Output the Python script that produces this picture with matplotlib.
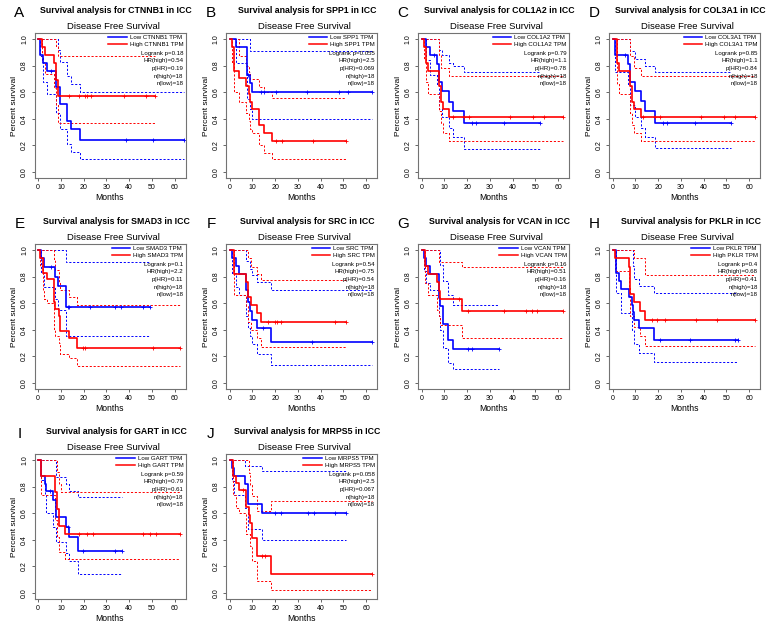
"""Grid of Kaplan-Meier disease free survival curves (10 genes, ICC)."""

import matplotlib
matplotlib.use("Agg")
import matplotlib.pyplot as plt
from matplotlib.lines import Line2D

plt.rcParams["font.family"] = ["Liberation Sans", "DejaVu Sans"]

# ---- data: (time, survival) steps, last pair = end ----
A_LOW = [(0, 1.0), (1, 0.88), (2, 0.82), (3.7, 0.76), (7.8, 0.64), (9.5, 0.51), (12.7, 0.38), (14.3, 0.32), (18.6, 0.24), (64, 0.24)]
A_HIGH = [(0, 1.0), (1.5, 0.94), (3, 0.88), (7, 0.82), (7.8, 0.69), (8.8, 0.57), (51.5, 0.57)]
A_LOW_UP = [(0, 1.0), (8.8, 0.92), (9.8, 0.83), (12.7, 0.72), (14.3, 0.66), (18.6, 0.6), (64, 0.6)]
A_LOW_LO = [(0, 1.0), (1, 0.87), (2, 0.68), (3.7, 0.59), (7.8, 0.44), (9.5, 0.32), (12.7, 0.21), (14.3, 0.15), (18.6, 0.1), (64, 0.1)]
A_HIGH_UP = [(0, 1.0), (7.8, 0.95), (8.8, 0.87), (51.5, 0.87)]
A_HIGH_LO = [(0, 1.0), (1.5, 0.83), (3, 0.74), (7, 0.63), (7.8, 0.5), (8.8, 0.37), (51.5, 0.37)]
A_LOW_CENS = [5.5, 38.8, 50.5, 64]
A_HIGH_CENS = [13.5, 17.9, 20.5, 21.4, 23.1, 37.8, 47.3, 51.5]
A_STATS = ["Logrank p=0.18", "HR(high)=0.54", "p(HR)=0.19", "n(high)=18", "n(low)=18"]

B_LOW = [(0, 1.0), (3, 0.94), (7.8, 0.73), (8.8, 0.67), (9.8, 0.6), (62.4, 0.6)]
B_HIGH = [(0, 1.0), (1, 0.94), (2, 0.76), (4, 0.71), (7.3, 0.65), (8.3, 0.59), (9, 0.53), (10, 0.47), (13, 0.35), (15, 0.29), (18.6, 0.235), (51, 0.235)]
B_LOW_UP = [(0, 1.0), (9, 0.91), (62.4, 0.91)]
B_LOW_LO = [(0, 1.0), (3, 0.82), (7.8, 0.55), (8.8, 0.47), (9.8, 0.4), (62.4, 0.4)]
B_HIGH_UP = [(0, 1.0), (4, 0.87), (7.3, 0.8), (8.3, 0.75), (9, 0.7), (13, 0.64), (15, 0.6), (18.6, 0.555), (51, 0.555)]
B_HIGH_LO = [(0, 1.0), (1, 0.83), (2, 0.6), (4, 0.53), (7.3, 0.44), (8.3, 0.38), (9, 0.32), (10, 0.29), (13, 0.2), (15, 0.14), (18.6, 0.1), (51, 0.1)]
B_LOW_CENS = [8, 13.6, 15, 20.4, 34, 48.3, 51.9, 62.4]
B_HIGH_CENS = [20.5, 23, 36.7, 51]
B_STATS = ["Logrank p=0.055", "HR(high)=2.5", "p(HR)=0.069", "n(high)=18", "n(low)=18"]

C_LOW = [(0, 1.0), (1.8, 0.94), (3.6, 0.88), (6.7, 0.81), (7.5, 0.68), (9, 0.61), (12, 0.53), (14, 0.455), (18.5, 0.365), (52, 0.365)]
C_HIGH = [(0, 1.0), (1, 0.94), (1.8, 0.82), (3, 0.76), (7.5, 0.65), (8.3, 0.53), (9.3, 0.47), (12, 0.41), (62, 0.41)]
C_LOW_UP = [(0, 1.0), (7.5, 0.92), (9, 0.88), (12, 0.82), (14, 0.8), (18.5, 0.75), (52, 0.75)]
C_LOW_LO = [(0, 1.0), (1.8, 0.84), (3.6, 0.73), (6.7, 0.66), (7.5, 0.47), (9, 0.41), (12, 0.33), (14, 0.26), (18.5, 0.175), (52, 0.175)]
C_HIGH_UP = [(0, 1.0), (7.5, 0.88), (8.3, 0.78), (12, 0.725), (62, 0.725)]
C_HIGH_LO = [(0, 1.0), (1, 0.85), (1.8, 0.68), (3, 0.59), (7.5, 0.46), (8.3, 0.37), (9.3, 0.29), (12, 0.235), (62, 0.235)]
C_LOW_CENS = [5.5, 22, 24, 36, 52]
C_HIGH_CENS = [14, 18.5, 21, 39, 49, 54, 62]
C_STATS = ["Logrank p=0.79", "HR(high)=1.1", "p(HR)=0.78", "n(high)=18", "n(low)=18"]

D_LOW = [(0, 1.0), (1, 0.88), (6.7, 0.81), (7.7, 0.68), (10, 0.61), (12.5, 0.535), (14.3, 0.455), (18.5, 0.365), (52, 0.365)]
D_HIGH = [(0, 1.0), (1.7, 0.82), (3, 0.76), (7.5, 0.65), (8.5, 0.53), (9.5, 0.47), (12.5, 0.41), (62.6, 0.41)]
D_LOW_UP = [(0, 1.0), (7.7, 0.91), (10, 0.85), (14.3, 0.8), (18.5, 0.75), (52, 0.75)]
D_LOW_LO = [(0, 1.0), (1, 0.75), (6.7, 0.66), (7.7, 0.5), (10, 0.41), (12.5, 0.33), (14.3, 0.26), (18.5, 0.18), (52, 0.18)]
D_HIGH_UP = [(0, 1.0), (7.5, 0.87), (9.5, 0.78), (12.5, 0.725), (62.6, 0.725)]
D_HIGH_LO = [(0, 1.0), (1.7, 0.66), (3, 0.59), (7.5, 0.44), (8.5, 0.35), (9.5, 0.29), (12.5, 0.235), (62.6, 0.235)]
D_LOW_CENS = [5.5, 22, 24, 36, 52]
D_HIGH_CENS = [13.5, 18.5, 21, 39, 49, 54, 62.6]
D_STATS = ["Logrank p=0.85", "HR(high)=1.1", "p(HR)=0.84", "n(high)=18", "n(low)=18"]

E_LOW = [(0, 1.0), (1.4, 0.94), (2.6, 0.87), (7.4, 0.8), (8.6, 0.73), (12.1, 0.57), (49.3, 0.57)]
E_HIGH = [(0, 1.0), (1, 0.94), (2, 0.83), (4, 0.78), (7, 0.61), (7.6, 0.56), (9, 0.5), (9.6, 0.39), (13.7, 0.335), (17.3, 0.266), (62.5, 0.266)]
E_LOW_UP = [(0, 1.0), (12.1, 0.91), (49.3, 0.91)]
E_LOW_LO = [(0, 1.0), (1.4, 0.83), (2.6, 0.72), (7.4, 0.63), (8.6, 0.55), (12.1, 0.355), (49.3, 0.355)]
E_HIGH_UP = [(0, 1.0), (7, 0.93), (7.6, 0.85), (9, 0.76), (9.6, 0.7), (13.7, 0.647), (17.3, 0.585), (62.5, 0.585)]
E_HIGH_LO = [(0, 1.0), (1, 0.88), (2, 0.7), (2.6, 0.63), (4, 0.6), (7, 0.4), (7.6, 0.35), (9, 0.3), (9.6, 0.22), (13.7, 0.185), (17.3, 0.125), (62.5, 0.125)]
E_LOW_CENS = [5.5, 13, 13.7, 22.6, 34, 36.6, 46, 49.3]
E_HIGH_CENS = [19.7, 20.4, 50.4, 62.5]
E_STATS = ["Logrank p=0.1", "HR(high)=2.2", "p(HR)=0.11", "n(high)=18", "n(low)=18"]

F_LOW = [(0, 1.0), (1.1, 0.94), (2.9, 0.88), (3.9, 0.82), (7.4, 0.7), (8, 0.61), (8.9, 0.54), (9.8, 0.475), (12, 0.41), (18, 0.31), (62.4, 0.31)]
F_HIGH = [(0, 1.0), (1.7, 0.82), (7.1, 0.76), (8, 0.65), (9.3, 0.59), (12.1, 0.53), (13.9, 0.46), (51, 0.46)]
F_LOW_UP = [(0, 1.0), (7.4, 0.92), (8.9, 0.86), (9.8, 0.815), (12, 0.76), (18, 0.7), (62.4, 0.7)]
F_LOW_LO = [(0, 1.0), (1.1, 0.83), (2.9, 0.72), (3.9, 0.66), (7.4, 0.5), (8, 0.41), (8.9, 0.35), (9.8, 0.295), (12, 0.22), (18, 0.135), (62.4, 0.135)]
F_HIGH_UP = [(0, 1.0), (8, 0.94), (9.3, 0.87), (12.1, 0.82), (13.9, 0.775), (51, 0.775)]
F_HIGH_LO = [(0, 1.0), (1.7, 0.66), (7.1, 0.58), (8, 0.46), (9.3, 0.4), (12.1, 0.34), (13.9, 0.27), (51, 0.27)]
F_LOW_CENS = [14.5, 36, 62.4]
F_HIGH_CENS = [16.9, 20, 20.7, 22.6, 46.4, 51]
F_STATS = ["Logrank p=0.54", "HR(high)=0.75", "p(HR)=0.54", "n(high)=18", "n(low)=18"]

G_LOW = [(0, 1.0), (1, 0.94), (1.8, 0.88), (3.6, 0.82), (7.5, 0.64), (8.2, 0.58), (9.5, 0.445), (11.8, 0.32), (14, 0.255), (34, 0.255)]
G_HIGH = [(0, 1.0), (1.5, 0.88), (3, 0.82), (6.7, 0.76), (7.5, 0.69), (8.2, 0.63), (17.8, 0.54), (62, 0.54)]
G_LOW_UP = [(0, 1.0), (8.2, 0.89), (9.5, 0.77), (11.8, 0.66), (14, 0.59), (34, 0.59)]
G_LOW_LO = [(0, 1.0), (1, 0.84), (1.8, 0.75), (3.6, 0.7), (7.5, 0.5), (8.2, 0.4), (9.5, 0.26), (11.8, 0.15), (14, 0.107), (34, 0.107)]
G_HIGH_UP = [(0, 1.0), (7.5, 0.913), (17.8, 0.875), (62, 0.875)]
G_HIGH_LO = [(0, 1.0), (1.5, 0.75), (3, 0.66), (6.7, 0.55), (7.5, 0.5), (8.2, 0.435), (17.8, 0.335), (62, 0.335)]
G_LOW_CENS = [20.6, 22.3, 34]
G_HIGH_CENS = [16.6, 20.6, 36.3, 46, 48.5, 50.8, 62]
G_STATS = ["Logrank p=0.16", "HR(high)=0.51", "p(HR)=0.16", "n(high)=18", "n(low)=18"]

H_LOW = [(0, 1.0), (1.4, 0.83), (2.9, 0.77), (3.7, 0.71), (7.2, 0.65), (8.3, 0.59), (8.8, 0.535), (9.6, 0.47), (11.7, 0.41), (18.2, 0.325), (55, 0.325)]
H_HIGH = [(0, 1.0), (1, 0.94), (7, 0.875), (7.7, 0.67), (9.6, 0.61), (12, 0.54), (14.2, 0.47), (62.6, 0.47)]
H_LOW_UP = [(0, 1.0), (8.8, 0.88), (9.6, 0.78), (11.7, 0.73), (18.2, 0.68), (55, 0.68)]
H_LOW_LO = [(0, 1.0), (1.4, 0.68), (3.7, 0.53), (8.3, 0.4), (9.6, 0.29), (11.7, 0.226), (18.2, 0.155), (55, 0.155)]
H_HIGH_UP = [(0, 1.0), (9.6, 0.94), (14.2, 0.81), (62.6, 0.81)]
H_HIGH_LO = [(0, 1.0), (1, 0.84), (7, 0.72), (7.7, 0.5), (9.6, 0.42), (12, 0.35), (14.2, 0.276), (62.6, 0.276)]
H_LOW_CENS = [21, 34, 53.6, 55]
H_HIGH_CENS = [17.2, 19.6, 22.9, 36.8, 46.1, 62.6]
H_STATS = ["Logrank p=0.4", "HR(high)=0.68", "p(HR)=0.41", "n(high)=18", "n(low)=18"]

I_LOW = [(0, 1.0), (1.4, 0.88), (2.9, 0.82), (3.6, 0.765), (6.4, 0.7), (8, 0.575), (12.1, 0.5), (13.6, 0.42), (17.6, 0.318), (36.9, 0.318)]
I_HIGH = [(0, 1.0), (1.4, 0.88), (7.6, 0.76), (8.3, 0.63), (9.3, 0.506), (11.9, 0.44), (62.6, 0.44)]
I_LOW_UP = [(0, 1.0), (8, 0.87), (12.1, 0.82), (13.6, 0.765), (17.6, 0.72), (36.9, 0.72)]
I_LOW_LO = [(0, 1.0), (1.4, 0.85), (2.9, 0.74), (3.6, 0.6), (6.4, 0.5), (8, 0.38), (12.1, 0.3), (13.6, 0.238), (17.6, 0.14), (36.9, 0.14)]
I_HIGH_UP = [(0, 1.0), (8.3, 0.91), (9.3, 0.82), (9.9, 0.76), (62.6, 0.76)]
I_HIGH_LO = [(0, 1.0), (1.4, 0.74), (7.6, 0.55), (8.3, 0.42), (9.3, 0.31), (11.9, 0.255), (62.6, 0.255)]
I_LOW_CENS = [5.4, 13, 19.7, 33.6, 36.9]
I_HIGH_CENS = [18, 21.5, 24, 46, 49, 51.7, 62.6]
I_STATS = ["Logrank p=0.59", "HR(high)=0.79", "p(HR)=0.61", "n(high)=18", "n(low)=18"]

J_LOW = [(0, 1.0), (1.1, 0.94), (1.9, 0.88), (6.9, 0.82), (7.9, 0.67), (14.3, 0.6), (51, 0.6)]
J_HIGH = [(0, 1.0), (1.4, 0.88), (2.9, 0.83), (4, 0.775), (7.1, 0.65), (8.3, 0.59), (9, 0.53), (10, 0.415), (12.1, 0.28), (18.1, 0.14), (62.4, 0.14)]
J_LOW_UP = [(0, 1.0), (6.9, 0.955), (14.3, 0.915), (51, 0.915)]
J_LOW_LO = [(0, 1.0), (1.1, 0.84), (1.9, 0.74), (6.9, 0.64), (7.9, 0.48), (14.3, 0.395), (51, 0.395)]
J_HIGH_UP = [(0, 1.0), (8.3, 0.9), (9, 0.81), (10, 0.73), (12.1, 0.62), (18.1, 0.69), (62.4, 0.69)]
J_HIGH_LO = [(0, 1.0), (1.4, 0.74), (2.9, 0.64), (4, 0.6), (7.1, 0.44), (9, 0.35), (10, 0.24), (12.1, 0.09), (18.1, 0.025), (62.4, 0.025)]
J_LOW_CENS = [20, 22.6, 34.3, 37, 46.4, 51]
J_HIGH_CENS = [5.7, 14.3, 15.7, 62.4]
J_STATS = ["Logrank p=0.058", "HR(high)=2.5", "p(HR)=0.067", "n(high)=18", "n(low)=18"]

LETTERS = ["A", "B", "C", "D", "E", "F", "G", "H", "I", "J"]
GENES = ["CTNNB1", "SPP1", "COL1A2", "COL3A1", "SMAD3", "SRC", "VCAN", "PKLR", "GART", "MRPS5"]

PANELS = [
    (A_LOW, A_HIGH, A_LOW_UP, A_LOW_LO, A_HIGH_UP, A_HIGH_LO, A_LOW_CENS, A_HIGH_CENS, A_STATS),
    (B_LOW, B_HIGH, B_LOW_UP, B_LOW_LO, B_HIGH_UP, B_HIGH_LO, B_LOW_CENS, B_HIGH_CENS, B_STATS),
    (C_LOW, C_HIGH, C_LOW_UP, C_LOW_LO, C_HIGH_UP, C_HIGH_LO, C_LOW_CENS, C_HIGH_CENS, C_STATS),
    (D_LOW, D_HIGH, D_LOW_UP, D_LOW_LO, D_HIGH_UP, D_HIGH_LO, D_LOW_CENS, D_HIGH_CENS, D_STATS),
    (E_LOW, E_HIGH, E_LOW_UP, E_LOW_LO, E_HIGH_UP, E_HIGH_LO, E_LOW_CENS, E_HIGH_CENS, E_STATS),
    (F_LOW, F_HIGH, F_LOW_UP, F_LOW_LO, F_HIGH_UP, F_HIGH_LO, F_LOW_CENS, F_HIGH_CENS, F_STATS),
    (G_LOW, G_HIGH, G_LOW_UP, G_LOW_LO, G_HIGH_UP, G_HIGH_LO, G_LOW_CENS, G_HIGH_CENS, G_STATS),
    (H_LOW, H_HIGH, H_LOW_UP, H_LOW_LO, H_HIGH_UP, H_HIGH_LO, H_LOW_CENS, H_HIGH_CENS, H_STATS),
    (I_LOW, I_HIGH, I_LOW_UP, I_LOW_LO, I_HIGH_UP, I_HIGH_LO, I_LOW_CENS, I_HIGH_CENS, I_STATS),
    (J_LOW, J_HIGH, J_LOW_UP, J_LOW_LO, J_HIGH_UP, J_HIGH_LO, J_LOW_CENS, J_HIGH_CENS, J_STATS),
]

BLUE = "#0000FF"
RED = "#FF0000"
W, H = 770, 632
COL_LEFT = [34.5, 226, 418, 609]
ROW_TOP = [33, 244, 454]
AX_W, AX_H = 151, 145


def surv_at(curve, t):
    val = curve[0][1]
    for tt, s in curve:
        if tt <= t:
            val = s
    return val


def draw_step(ax, curve, color, **kw):
    ts = [p[0] for p in curve]
    ss = [p[1] for p in curve]
    ax.step(ts, ss, where="post", color=color, **kw)


def plot_panel(ax, idx):
    low, high, low_up, low_lo, high_up, high_lo, low_c, high_c, stats = PANELS[idx]
    gene = GENES[idx]
    dash = dict(lw=0.7, dashes=(2.2, 1.8))
    for c in (low_up, low_lo):
        draw_step(ax, c, BLUE, **dash)
    for c in (high_up, high_lo):
        draw_step(ax, c, RED, **dash)
    draw_step(ax, low, BLUE, lw=1.2)
    draw_step(ax, high, RED, lw=1.2)
    ax.plot(low_c, [surv_at(low, t) for t in low_c], "+", color=BLUE, ms=3.5, mew=0.6)
    ax.plot(high_c, [surv_at(high, t) for t in high_c], "+", color=RED, ms=3.5, mew=0.6)

    ax.set_xlim(-1.6, 64.8)
    ax.set_ylim(-0.045, 1.045)
    ax.set_xticks(range(0, 61, 10))
    ax.set_yticks([0, 0.2, 0.4, 0.6, 0.8, 1.0])
    ax.set_yticklabels([f"{v:.1f}" for v in [0, 0.2, 0.4, 0.6, 0.8, 1.0]],
                       rotation=90, va="center")
    ax.tick_params(direction="out", length=2.5, width=0.6, labelsize=5.0,
                   pad=2.0, color="0.3")
    for sp in ax.spines.values():
        sp.set_color("0.45")
        sp.set_linewidth(0.8)
    ax.set_xlabel("Months", fontsize=6.2, labelpad=1.5)
    ax.set_ylabel("Percent survival", fontsize=6.0, labelpad=2)

    handles = [Line2D([], [], color=BLUE, lw=1.1), Line2D([], [], color=RED, lw=1.1)]
    ax.legend(handles, [f"Low {gene} TPM", f"High {gene} TPM"], loc="upper right",
              frameon=False, fontsize=4.4, handlelength=3.0, handletextpad=0.5,
              labelspacing=0.2, borderaxespad=0.15, borderpad=0.2)
    for k, s in enumerate(stats):
        ax.text(0.985, 0.862 - 0.053 * k, s, transform=ax.transAxes,
                ha="right", va="center", fontsize=4.4)

    ax.text(-0.1, 1.14, LETTERS[idx], transform=ax.transAxes, ha="center",
            va="center", fontsize=11)
    ax.text(0.54, 1.152, f"Survival analysis for {gene} in ICC", transform=ax.transAxes,
            ha="center", va="center", fontsize=6.3, fontweight="bold")
    ax.text(0.52, 1.045, "Disease Free Survival", transform=ax.transAxes,
            ha="center", va="center", fontsize=6.8)


def main():
    fig = plt.figure(figsize=(W / 100, H / 100), dpi=100)
    for idx in range(len(PANELS)):
        r, c = divmod(idx, 4)
        rect = [COL_LEFT[c] / W, 1 - (ROW_TOP[r] + AX_H) / H, AX_W / W, AX_H / H]
        ax = fig.add_axes(rect)
        plot_panel(ax, idx)
    fig.savefig("out.png", dpi=100)
    plt.close(fig)


if __name__ == "__main__":
    main()
